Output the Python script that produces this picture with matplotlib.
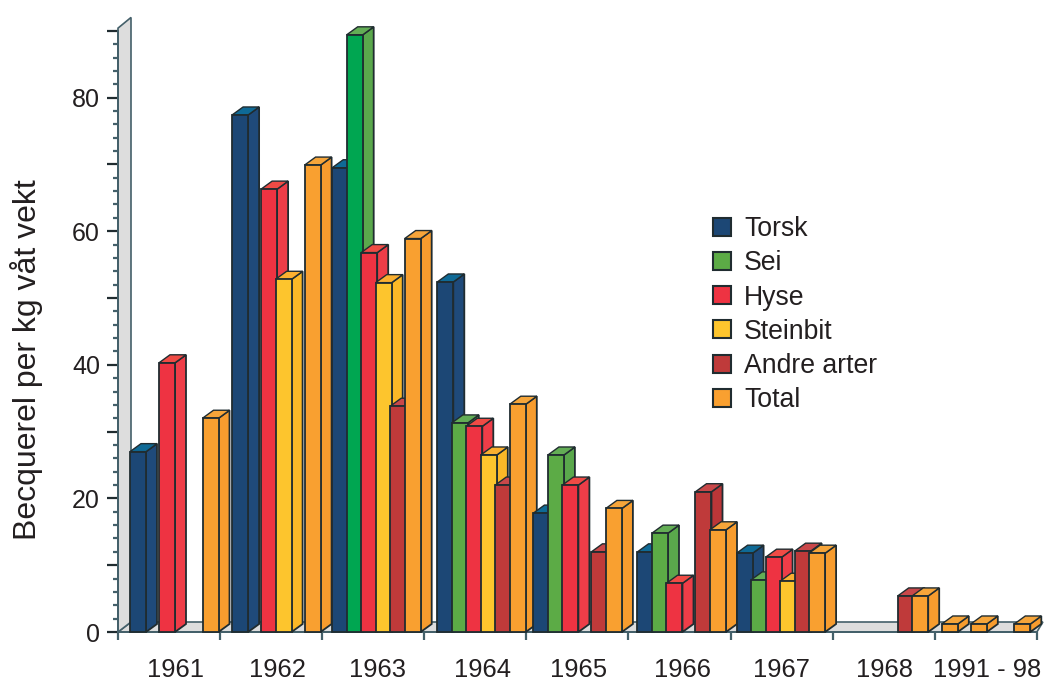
import numpy as np
import matplotlib
matplotlib.use('Agg')
import matplotlib.pyplot as plt
from matplotlib.patches import Patch

nan = np.nan
aar = ['1961', '1962', '1963', '1964', '1965', '1966', '1967', '1968', '1991 - 98']
arter = ['Torsk', 'Sei', 'Hyse', 'Steinbit', 'Andre arter', 'Total']

torsk = [27.0, 77.4, 69.5, 52.4, 17.8, 12.0, 11.8, nan, nan]
sei = [nan, nan, 89.4, 31.3, 26.5, 14.8, 7.8, nan, nan]
hyse = [40.3, 66.3, 56.8, 30.8, 22.0, 7.3, 11.2, nan, nan]
steinbit = [nan, 52.8, 52.3, 26.5, nan, nan, 7.6, nan, nan]
andre = [nan, nan, 33.8, 22.0, 12.0, 21.0, 12.1, 5.4, nan]
total = [32.0, 69.9, 58.9, 34.1, 18.5, 15.3, 11.8, 5.4, nan]
total_1991_98 = [1.2, 1.2, 1.2]

front = ['#1c4775', '#5cab46', '#ee3342', '#fdc52d', '#bf3a3a', '#f9a030']
side = ['#1f4a7a', '#5aa84c', '#ee3d48', '#fbb827', '#bb3638', '#f79c2e']
topp = ['#0f6a96', '#63ad55', '#ef4b45', '#fbb030', '#c9484a', '#f6a53a']
kant = '#202c30'
akse = '#44606a'

plt.rcParams['font.family'] = ['Liberation Sans', 'DejaVu Sans']

# pikselskala: 102.1 px per gruppe, 6.68 px per enhet
PX_X = 102.1
PX_Y = 6.68
fig = plt.figure(figsize=(10.48, 6.8), dpi=100)
ax = fig.add_axes([0, 0, 1, 1])
ax.set_xlim(-118 / PX_X, 930 / PX_X)
ax.set_ylim(-48 / PX_Y, 632 / PX_Y)

dx = 11 / PX_X
dy = 8 / PX_Y
bredde = 16 / PX_X
slot = 14.5 / PX_X
start = 11 / PX_X
# grupper er ikke helt jevnt plassert i originalen
forskyv = np.array([1, 1, -1, 2, -4, -2, -5, -4, -4]) / PX_X

# gulv og vegg
ax.fill([0, 9.0, 9.0 + 6 / PX_X, 13 / PX_X], [0, 0, 10 / PX_Y, 10 / PX_Y],
        facecolor='#dddddd', edgecolor=akse, lw=1.2, zorder=1)
ax.fill([0, 0, 13 / PX_X, 13 / PX_X], [0, 90.4, 92.0, 10 / PX_Y],
        facecolor='#dddddd', edgecolor=akse, lw=1.2, zorder=1)

z = 3


def tegn_stolpe(x, v, k, farge=None):
    global z
    ax.fill([x + bredde, x + bredde + dx, x + bredde + dx, x + bredde],
            [0, dy, v + dy, v], facecolor=side[k], edgecolor=kant, lw=1.3, zorder=z)
    ax.fill([x, x + dx, x + bredde + dx, x + bredde],
            [v, v + dy, v + dy, v], facecolor=topp[k], edgecolor=kant, lw=1.0, zorder=z)
    ax.bar(x, v, width=bredde, align='edge', color=farge or front[k],
           edgecolor=kant, linewidth=1.3, zorder=z + 0.5)
    z += 1


serier = [torsk, sei, hyse, steinbit, andre, total]
for i in range(len(aar)):
    for k, verdier in enumerate(serier):
        v = verdier[i]
        if np.isnan(v):
            continue
        x = i + forskyv[i] + start + k * slot
        # Sei 1963 er trykt i en klarere grønn
        tegn_stolpe(x, v, k, '#00a651' if (k == 1 and i == 2) else None)

for s, v in zip([0, 2, 5], total_1991_98):
    tegn_stolpe(8 + forskyv[8] + start + s * slot, v, 5)

for navn in ['top', 'right']:
    ax.spines[navn].set_visible(False)
ax.spines['left'].set_position(('data', 0))
ax.spines['bottom'].set_position(('data', 0))
ax.spines['left'].set_bounds(0, 90)
ax.spines['bottom'].set_bounds(0, 9)
for navn in ['left', 'bottom']:
    ax.spines[navn].set_color(akse)
    ax.spines[navn].set_linewidth(1.4)
    ax.spines[navn].set_zorder(2)

ax.set_yticks(np.arange(0, 91, 10))
ax.set_yticklabels(['0', '', '20', '', '40', '', '60', '', '80', ''])
ax.set_yticks(np.arange(0, 91, 2), minor=True)
ax.tick_params(axis='y', which='major', length=8, width=1.6, color=kant, labelsize=18,
               pad=5, labelcolor='#231f20')
ax.tick_params(axis='y', which='minor', length=3.6, width=1.6, color=akse)

ax.set_xticks(np.arange(0, 10))
ax.set_xticklabels([''] * 10)
ax.set_xticks(np.arange(len(aar)) + 0.55 + forskyv, minor=True)
ax.set_xticklabels(aar, minor=True)
ax.tick_params(axis='x', which='major', length=6, width=1.6, color=akse)
ax.tick_params(axis='x', which='minor', length=0, pad=18.5, labelsize=18.4, labelcolor='#231f20')

ax.set_ylabel('Becquerel per kg våt vekt', fontsize=23, color='#231f20')
ax.yaxis.set_label_coords(43 / 1048, (680 - 360) / 680)

handles = [Patch(facecolor=front[k], edgecolor=kant, linewidth=1.5) for k in range(6)]
ax.legend(handles, arter, loc='upper left', bbox_to_anchor=(713 / 1048, 1 - 216 / 680),
          frameon=False, fontsize=19.2, handlelength=0.66, handleheight=0.66,
          handletextpad=0.5, labelspacing=0.31, borderpad=0, borderaxespad=0,
          labelcolor='#231f20')

fig.savefig('out.png', dpi=100)
